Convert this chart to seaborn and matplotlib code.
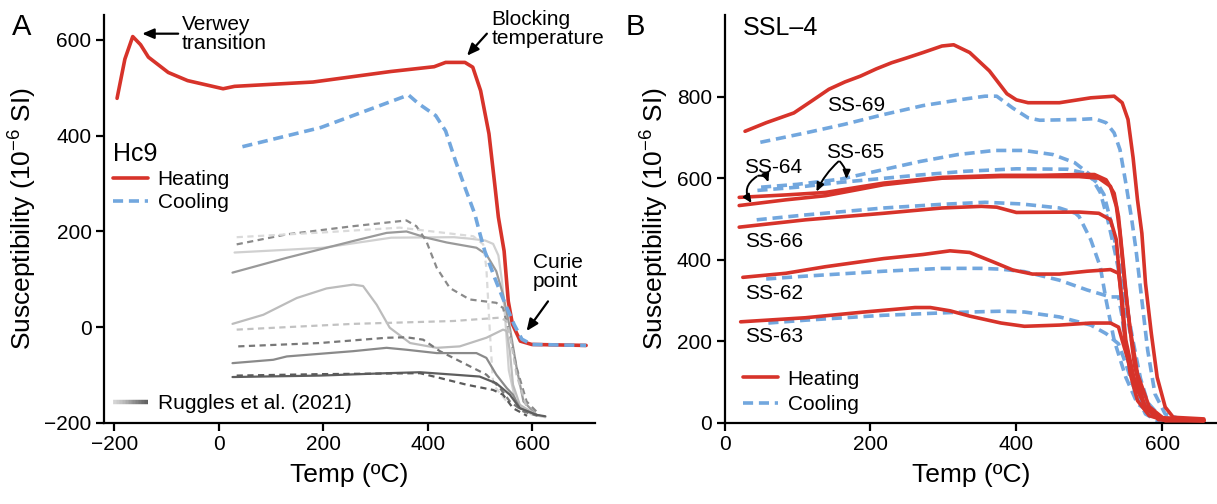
import numpy as np
import pandas as pd
import matplotlib
matplotlib.use("Agg")
import matplotlib.pyplot as plt
import seaborn as sns
from matplotlib.collections import LineCollection
from matplotlib.legend_handler import HandlerBase
from matplotlib.lines import Line2D

# ---- Panel A: Hc9 ----
hc9_heat_t = [-195, -180, -165, -150, -135, -97, -60, 8, 30, 180, 329, 412, 434, 471, 486,
              501, 517, 528, 535, 546, 554, 562, 577, 599, 703]
hc9_heat_k = [478, 560, 607, 590, 564, 532, 515, 498, 503, 512, 534, 544, 553, 553, 543,
              494, 404, 299, 230, 159, 54, 6, -29, -36, -38]
hc9_cool_t = [45, 195, 363, 382, 415, 434, 453, 471, 490, 500, 509, 528, 546, 565, 580, 599, 703]
hc9_cool_k = [377, 417, 485, 467, 442, 410, 347, 292, 236, 194, 159, 103, 54, 6, -25, -36, -38]

# Ruggles et al. (2021) curves
rug1_t = [30, 100, 200, 330, 450, 480, 510, 525, 535, 542, 548, 555, 568, 598, 625]
rug1_k = [156, 160, 166, 187, 188, 185, 181, 174, 150, 96, 20, -90, -155, -182, -188]
rug2_t = [26, 130, 257, 321, 359, 397, 436, 493, 512, 531, 544, 557, 570, 583, 608]
rug2_k = [114, 145, 180, 197, 200, 187, 177, 166, 152, 117, 68, -1, -85, -155, -183]
rug3_t = [34, 130, 257, 359, 378, 397, 417, 442, 480, 531, 544, 557, 570, 589, 614]
rug3_k = [173, 194, 211, 223, 211, 180, 124, 82, 58, 51, 40, -15, -85, -155, -183]
rug4_t = [34, 200, 346, 487, 506, 512, 519, 525, 551]
rug4_k = [188, 198, 208, 190, 173, 124, -15, -120, -155]
rug5_t = [26, 85, 149, 206, 257, 276, 302, 327, 366, 417, 461, 512, 544, 551, 557, 563, 576, 608]
rug5_k = [7, 26, 61, 81, 89, 86, 47, -1, -33, -43, -40, -22, -5, -8, -50, -120, -162, -183]
rug6_t = [34, 257, 449, 538, 551, 557, 570, 590]
rug6_k = [-5, 7, 13, 20, 13, -15, -100, -170]
rug7_t = [37, 193, 321, 359, 391, 423, 474, 512, 538, 557, 583, 610]
rug7_k = [-40, -33, -22, -21, -26, -50, -78, -99, -127, -155, -176, -185]
rug8_t = [26, 104, 130, 257, 321, 359, 417, 493, 512, 531, 551, 563, 576, 608]
rug8_k = [-75, -68, -61, -50, -43, -47, -54, -54, -64, -99, -127, -141, -169, -183]
rug9_t = [26, 193, 321, 385, 449, 499, 531, 557, 576, 608, 625]
rug9_k = [-104, -101, -96, -94, -99, -103, -117, -141, -169, -183, -186]
rug10_t = [34, 193, 385, 423, 474, 525, 544, 563, 590]
rug10_k = [-101, -98, -96, -106, -120, -131, -141, -169, -185]

# ---- Panel B: SSL-4 ----
ss69_heat_t = [28, 57, 95, 120, 143, 165, 186, 208, 229, 250, 272, 298, 314, 336, 363, 387,
               400, 416, 459, 502, 534, 545, 553, 560, 566, 572, 577, 585, 593, 604, 615, 657]
ss69_heat_k = [715, 736, 760, 790, 818, 836, 850, 868, 883, 895, 908, 924, 927, 908, 863, 807,
               792, 785, 785, 797, 801, 785, 744, 650, 547, 465, 342, 219, 112, 39, 14, 10]
ss69_cool_t = [49, 111, 164, 218, 272, 325, 357, 373, 395, 416, 432, 486, 507, 523, 534, 542,
               550, 558, 564, 572, 580, 590, 604, 625, 657]
ss69_cool_k = [688, 711, 732, 756, 778, 793, 801, 801, 772, 748, 742, 744, 746, 736, 711, 670,
               588, 500, 424, 301, 178, 71, 22, 10, 6]
ss64_heat_t = [20, 84, 138, 218, 298, 379, 486, 513, 529, 537, 542, 548, 556, 566, 582, 604, 657]
ss64_heat_k = [533, 547, 557, 584, 600, 604, 604, 600, 580, 531, 465, 350, 230, 120, 40, 8, 6]
ss64_cool_t = [45, 100, 160, 220, 268, 330, 400, 470, 495, 510, 520, 530, 540, 550, 560, 570,
               580, 600, 657]
ss64_cool_k = [570, 578, 590, 600, 608, 617, 623, 622, 612, 590, 560, 490, 400, 300, 200, 110,
               50, 10, 5]
ss65_heat_t = [20, 84, 138, 218, 298, 379, 432, 486, 507, 523, 534, 540, 546, 553, 562, 575,
               595, 657]
ss65_heat_k = [553, 559, 565, 588, 602, 607, 607, 609, 609, 596, 563, 506, 400, 270, 140, 45,
               8, 6]
ss65_cool_t = [50, 100, 160, 220, 268, 320, 370, 410, 450, 480, 500, 515, 525, 535, 545, 555,
               565, 575, 590, 610, 657]
ss65_cool_k = [578, 585, 598, 622, 641, 658, 668, 668, 658, 638, 610, 565, 500, 420, 330, 230,
               130, 60, 15, 5, 5]
ss66_heat_t = [20, 111, 218, 298, 352, 373, 400, 486, 513, 529, 537, 542, 548, 556, 566, 582,
               604, 657]
ss66_heat_k = [480, 498, 514, 527, 531, 529, 516, 517, 514, 498, 449, 342, 219, 121, 55, 18, 6, 6]
ss66_cool_t = [44, 111, 218, 298, 357, 406, 459, 481, 486, 502, 515, 523, 534, 550, 566, 593, 657]
ss66_cool_k = [498, 510, 527, 536, 541, 537, 527, 514, 506, 449, 383, 301, 203, 112, 47, 14, 6]
ss62_heat_t = [25, 84, 138, 218, 272, 309, 336, 368, 395, 422, 459, 497, 529, 540, 545, 550,
               561, 577, 604, 657]
ss62_heat_k = [357, 367, 383, 403, 413, 422, 418, 395, 375, 365, 365, 372, 376, 367, 301, 203,
               112, 39, 6, 6]
ss62_cool_t = [57, 111, 218, 298, 352, 379, 411, 459, 497, 529, 540, 545, 550, 561, 577, 604, 657]
ss62_cool_k = [353, 360, 372, 379, 379, 377, 371, 350, 326, 309, 309, 260, 178, 88, 30, 6, 6]
ss63_heat_t = [22, 111, 191, 261, 282, 309, 336, 379, 411, 459, 502, 529, 540, 545, 556, 566,
               577, 593, 657]
ss63_heat_k = [248, 258, 272, 283, 283, 275, 262, 245, 237, 240, 245, 245, 235, 203, 137, 80,
               39, 14, 6]
ss63_cool_t = [60, 111, 218, 314, 379, 411, 459, 502, 523, 540, 550, 564, 577, 593, 657]
ss63_cool_k = [245, 252, 264, 271, 274, 272, 260, 240, 219, 194, 145, 71, 22, 6, 6]

RED = "#d7332a"
BLUE = "#72a7de"
FS = 15


class GradientHandler(HandlerBase):
    # draws the grey ramp used for the Ruggles et al. legend entry
    def create_artists(self, legend, orig_handle, xdescent, ydescent, width, height,
                       fontsize, trans):
        n = 24
        xs = np.linspace(-xdescent, width - xdescent, n + 1)
        y = height / 2 - ydescent
        segs = [[(xs[i], y), (xs[i + 1], y)] for i in range(n)]
        cols = plt.cm.Greys(np.linspace(0.25, 0.7, n))
        lc = LineCollection(segs, colors=cols, linewidths=3.2, transform=trans,
                            capstyle="butt")
        return [lc]


def draw(ax, t, k, color, lw, ls="-", label="_nolegend_", z=2):
    df = pd.DataFrame({"t": t, "k": k})
    sns.lineplot(data=df, x="t", y="k", ax=ax, color=color, linewidth=lw,
                 linestyle=ls, sort=False, estimator=None, label=label, zorder=z,
                 legend=False)


sns.set_style("ticks")
plt.rcParams["font.family"] = ["Liberation Sans", "DejaVu Sans"]
plt.rcParams["mathtext.fontset"] = "custom"
plt.rcParams["mathtext.rm"] = "Liberation Sans"
plt.rcParams["mathtext.default"] = "regular"
for key in ("text.color", "axes.labelcolor", "xtick.color", "ytick.color", "axes.edgecolor"):
    plt.rcParams[key] = "black"

fig = plt.figure(figsize=(12.17, 5.04), dpi=100)
axA = fig.add_axes([104 / 1217, 81 / 504, 491 / 1217, 408 / 504])
axB = fig.add_axes([724.6 / 1217, 81 / 504, 492.4 / 1217, 408 / 504])

GRAY_DASH = (0, (2.8, 2.0))
rug = [
    (rug1_t, rug1_k, "#d0d0d0", "-"),
    (rug2_t, rug2_k, "#9a9a9a", "-"),
    (rug3_t, rug3_k, "#8a8a8a", GRAY_DASH),
    (rug4_t, rug4_k, "#dadada", GRAY_DASH),
    (rug5_t, rug5_k, "#bcbcbc", "-"),
    (rug6_t, rug6_k, "#c2c2c2", GRAY_DASH),
    (rug7_t, rug7_k, "#787878", GRAY_DASH),
    (rug8_t, rug8_k, "#8a8a8a", "-"),
    (rug9_t, rug9_k, "#5e5e5e", "-"),
    (rug10_t, rug10_k, "#5a5a5a", GRAY_DASH),
]
for t, k, c, ls in rug:
    draw(axA, t, k, c, 1.6, ls, z=1)

draw(axA, hc9_heat_t, hc9_heat_k, RED, 2.6, "-", label="Heating", z=3)
draw(axA, hc9_cool_t, hc9_cool_k, BLUE, 2.6, (0, (2.8, 1.6)), label="Cooling", z=4)

axA.set_xlim(-220, 720)
axA.set_ylim(-200, 652)
axA.set_xticks([-200, 0, 200, 400, 600])
axA.set_yticks([-200, 0, 200, 400, 600])

# Panel B
pairs = [
    (ss69_heat_t, ss69_heat_k, ss69_cool_t, ss69_cool_k),
    (ss65_heat_t, ss65_heat_k, ss65_cool_t, ss65_cool_k),
    (ss64_heat_t, ss64_heat_k, ss64_cool_t, ss64_cool_k),
    (ss66_heat_t, ss66_heat_k, ss66_cool_t, ss66_cool_k),
    (ss62_heat_t, ss62_heat_k, ss62_cool_t, ss62_cool_k),
    (ss63_heat_t, ss63_heat_k, ss63_cool_t, ss63_cool_k),
]
for i, (ht, hk, ct, ck) in enumerate(pairs):
    draw(axB, ht, hk, RED, 2.6, "-", label="Heating" if i == 0 else "_nolegend_", z=3)
    draw(axB, ct, ck, BLUE, 2.6, (0, (2.8, 1.6)),
         label="Cooling" if i == 0 else "_nolegend_", z=2)

axB.set_xlim(0, 675)
axB.set_ylim(0, 1000)
axB.set_xticks([0, 200, 400, 600])
axB.set_yticks([0, 200, 400, 600, 800])

for ax in (axA, axB):
    sns.despine(ax=ax)
    for s in ("left", "bottom"):
        ax.spines[s].set_linewidth(1.6)
    ax.tick_params(axis="both", labelsize=FS, length=6, width=1.6, pad=3)
    ax.set_xlabel("Temp (ºC)", fontsize=19, labelpad=6)
    ax.set_ylabel("Susceptibility (10$^{-6}$ SI)", fontsize=19, labelpad=4)

# legends
hA = [l for l in axA.get_lines() if l.get_label() in ("Heating", "Cooling")]
legA = axA.legend(handles=hA, labels=["Heating", "Cooling"], title="Hc9",
                  loc="upper left", bbox_to_anchor=(0.018, 0.689), frameon=False,
                  fontsize=FS, title_fontsize=18, alignment="left", borderpad=0,
                  borderaxespad=0, handlelength=1.7, handletextpad=0.45,
                  labelspacing=0.2)
axA.add_artist(legA)
axA.legend(handles=[Line2D([], [])], labels=["Ruggles et al. (2021)"],
           handler_map={Line2D: GradientHandler()}, loc="lower left",
           bbox_to_anchor=(0.018, 0.025), frameon=False, fontsize=FS, borderpad=0,
           borderaxespad=0, handlelength=1.7, handletextpad=0.45)

hB = [l for l in axB.get_lines() if l.get_label() in ("Heating", "Cooling")]
axB.legend(handles=hB, labels=["Heating", "Cooling"], loc="lower left",
           bbox_to_anchor=(0.037, 0.022), frameon=False, fontsize=FS, borderpad=0,
           borderaxespad=0, handlelength=1.7, handletextpad=0.45, labelspacing=0.3)

# panel letters and titles
fig.text(0.0096, 0.9306, "A", fontsize=21, va="baseline")
fig.text(0.514, 0.9306, "B", fontsize=21, va="baseline")
axB.text(0.0374, 0.951, "SSL–4", transform=axB.transAxes, fontsize=18, va="baseline")

# annotations panel A
arrow = dict(arrowstyle="-|>,head_length=0.7,head_width=0.3", color="black", lw=1.6,
             shrinkA=0, shrinkB=0)
axA.annotate("", xy=(-147, 613), xytext=(-78, 613), arrowprops=arrow, annotation_clip=False)
axA.text(-71, 651, "Verwey\ntransition", fontsize=FS, va="top", linespacing=1.0)
axA.annotate("", xy=(475, 567), xytext=(513, 613), arrowprops=arrow, annotation_clip=False)
axA.text(522, 662, "Blocking\ntemperature", fontsize=FS, va="top", linespacing=1.0)
axA.annotate("", xy=(589, -8), xytext=(630, 54), arrowprops=arrow)
axA.text(601, 154, "Curie\npoint", fontsize=FS, va="top", linespacing=1.0)

# annotations panel B
for lbl, x, y in [("SS-69", 140, 764), ("SS-64", 27, 613), ("SS-65", 139, 649),
                  ("SS-66", 28, 432), ("SS-62", 28, 305), ("SS-63", 28, 198)]:
    axB.text(x, y, lbl, fontsize=FS, va="baseline")

small = dict(arrowstyle="-|>,head_length=0.5,head_width=0.22", color="black", lw=1.4,
             shrinkA=0, shrinkB=0)
axB.annotate("", xy=(37, 539), xytext=(44, 604),
             arrowprops=dict(small, connectionstyle="arc3,rad=0.5"))
axB.annotate("", xy=(60, 590), xytext=(46, 606),
             arrowprops=dict(small, connectionstyle="arc3,rad=-0.4"))
axB.annotate("", xy=(126, 567), xytext=(156, 641),
             arrowprops=dict(small, connectionstyle="arc3,rad=0.1"))
axB.annotate("", xy=(167, 598), xytext=(158, 641),
             arrowprops=dict(small, connectionstyle="arc3,rad=-0.2"))

fig.savefig("out.png", dpi=100)
